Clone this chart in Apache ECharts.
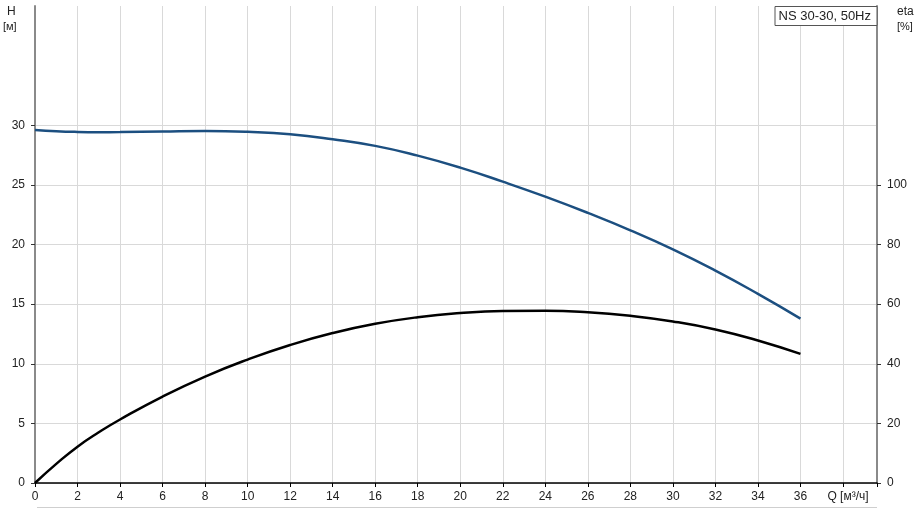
<!DOCTYPE html>
<html>
<head>
<meta charset="utf-8">
<script src="https://cdn.jsdelivr.net/npm/echarts@6/dist/echarts.min.js"></script>
<style>
html,body{margin:0;padding:0;background:#fff;}
#chart{width:921px;height:509px;}
</style>
</head>
<body>
<div id="chart"></div>
<script>
// Flow rate Q [m³/h]
const flow = [0, 1, 2, 3, 4, 6, 8, 10, 12, 14, 16, 18, 20, 22, 24, 26, 28, 30, 32, 34, 36];
// Head H [m]
const head = [29.61, 29.5, 29.44, 29.42, 29.43, 29.48, 29.52, 29.45, 29.25, 28.83, 28.27, 27.45, 26.45, 25.27, 24.01, 22.65, 21.19, 19.59, 17.81, 15.86, 13.79];
// Efficiency eta [%]
const eta = [0, 6.4, 12.2, 17.0, 21.3, 29.0, 35.7, 41.4, 46.3, 50.3, 53.4, 55.6, 57.0, 57.7, 57.8, 57.3, 56.1, 54.2, 51.5, 47.8, 43.3];
// Tick labels shown on the axes
const hTicks = [0, 5, 10, 15, 20, 25, 30];
const etaTicks = [0, 20, 40, 60, 80, 100];
const titleText = 'NS 30-30, 50Hz';
const xUnitLabel = 'Q [м³/ч]';
const hLabels = ['H', '[м]'];
const etaLabels = ['eta', '[%]'];

const FONT = '"Liberation Sans", Arial, sans-serif';
const chart = echarts.init(document.getElementById('chart'), null, {renderer: 'canvas'});

const option = {
  animation: false,
  backgroundColor: '#fff',
  textStyle: {fontFamily: FONT},
  title: {
    text: titleText,
    right: 44, top: 6,
    padding: [4, 6, 3, 4],
    borderColor: '#555', borderWidth: 1, backgroundColor: '#fff',
    textStyle: {fontSize: 13, fontWeight: 'normal', color: '#222', fontFamily: FONT}
  },
  grid: {left: 35, right: 44, top: 6, bottom: 26, containLabel: false},
  xAxis: {
    type: 'value', min: 0, max: 39.6, interval: 2,
    axisLine: {show: true, lineStyle: {color: '#000', width: 1.5}},
    axisTick: {show: true, length: 4, lineStyle: {color: '#000'}},
    axisLabel: {
      color: '#222', fontSize: 12, fontFamily: FONT, margin: 8,
      formatter: v => (v <= 36 ? String(v) : (Math.abs(v - 38) < 1e-6 ? '{q|' + xUnitLabel + '}' : '')),
      rich: {q: {fontSize: 12, fontFamily: FONT, color: '#222', padding: [0, 0, 0, 10]}}
    },
    splitLine: {show: true, lineStyle: {color: '#d9d9d9', width: 1}}
  },
  yAxis: [
    {
      type: 'value', min: 0, max: 40, interval: 5, position: 'left',
      axisLine: {show: true, lineStyle: {color: '#8a8a8a', width: 2}},
      axisTick: {show: true, length: 4, customValues: hTicks, lineStyle: {color: '#333'}},
      axisLabel: {color: '#222', fontSize: 12, fontFamily: FONT, margin: 10, customValues: hTicks},
      splitLine: {show: true, lineStyle: {color: '#d9d9d9', width: 1}}
    },
    {
      type: 'value', min: 0, max: 160, interval: 20, position: 'right',
      axisLine: {show: true, lineStyle: {color: '#8a8a8a', width: 2}},
      axisTick: {show: true, length: 4, customValues: etaTicks, lineStyle: {color: '#333'}},
      axisLabel: {color: '#222', fontSize: 12, fontFamily: FONT, margin: 10, customValues: etaTicks},
      splitLine: {show: false}
    }
  ],
  graphic: [
    {type: 'text', left: 7, top: 6, style: {text: hLabels[0], fontSize: 12, fontFamily: FONT, fill: '#222'}},
    {type: 'text', left: 3, top: 21, style: {text: hLabels[1], fontSize: 11, fontFamily: FONT, fill: '#222'}},
    {type: 'text', left: 897, top: 6, style: {text: etaLabels[0], fontSize: 12, fontFamily: FONT, fill: '#222'}},
    {type: 'text', left: 897, top: 21, style: {text: etaLabels[1], fontSize: 11, fontFamily: FONT, fill: '#222'}},
    {type: 'line', shape: {x1: 37, y1: 507.5, x2: 877, y2: 507.5}, style: {stroke: '#cfcfcf', lineWidth: 1}}
  ],
  series: [
    {
      name: 'H', type: 'line', yAxisIndex: 0, smooth: 0.5, symbol: 'none',
      data: flow.map((q, i) => [q, head[i]]),
      lineStyle: {color: '#1c4f80', width: 2.5}, z: 3
    },
    {
      name: 'eta', type: 'line', yAxisIndex: 1, smooth: 0.5, symbol: 'none',
      data: flow.map((q, i) => [q, eta[i]]),
      lineStyle: {color: '#000', width: 2.5}, z: 3
    }
  ]
};
chart.setOption(option);
</script>
</body>
</html>
